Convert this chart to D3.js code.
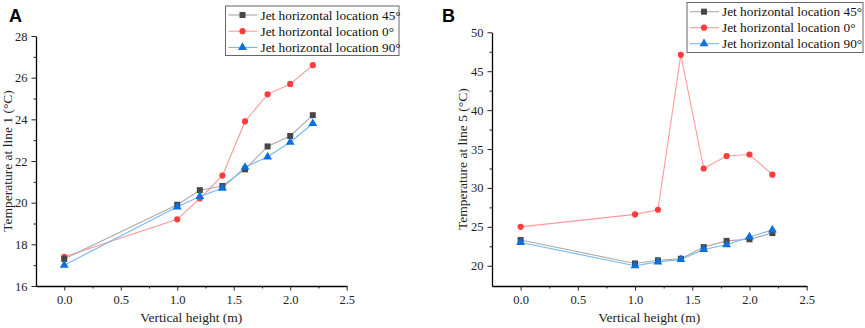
<!DOCTYPE html>
<html>
<head>
<meta charset="utf-8">
<script src="https://cdn.jsdelivr.net/npm/d3@7"></script>
<style>
  html, body { margin: 0; padding: 0; background: #fff; }
  svg { display: block; }
</style>
</head>
<body>
<svg id="fig" width="865" height="328"></svg>
<script>
// x positions (m)
const heights = [0.0, 1.0, 1.2, 1.4, 1.6, 1.8, 2.0, 2.2];
const seriesNames = ["Jet horizontal location 45°", "Jet horizontal location 0°", "Jet horizontal location 90°"];

// panel A: temperature at line 1
const line1_45 = [17.3, 19.9, 20.6, 20.8, 21.6, 22.7, 23.2, 24.2];
const line1_0  = [17.4, 19.2, 20.2, 21.3, 23.9, 25.2, 25.7, 26.6];
const line1_90 = [17.0, 19.8, 20.3, 20.7, 21.7, 22.2, 22.9, 23.8];

// panel B: temperature at line 5
const line5_45 = [23.3, 20.3, 20.7, 20.9, 22.4, 23.2, 23.4, 24.2];
const line5_0  = [25.0, 26.6, 27.2, 47.1, 32.5, 34.1, 34.3, 31.7];
const line5_90 = [23.0, 20.0, 20.5, 20.8, 22.1, 22.7, 23.7, 24.6];

const xTicks = [0, 0.5, 1.0, 1.5, 2.0, 2.5];
const xMinor = [0.25, 0.75, 1.25, 1.75, 2.25];
const yTicksA = [16, 18, 20, 22, 24, 26, 28];
const yMinorA = [17, 19, 21, 23, 25, 27];
const yTicksB = [20, 25, 30, 35, 40, 45, 50];
const yMinorB = [22.5, 27.5, 32.5, 37.5, 42.5, 47.5];

const styles = [
  { line: "#a9a9a9", mark: "#474747", sym: d3.symbolSquare, size: 36 },
  { line: "#ff9a9a", mark: "#ff3b3b", sym: d3.symbolCircle, size: 30 },
  { line: "#78b6ee", mark: "#0a6fe0", sym: d3.symbolTriangle, size: 34 }
];

const svg = d3.select("#fig");
const serif = "'Liberation Serif', 'Times New Roman', serif";

function panel(o) {
  const x = d3.scaleLinear().domain([-0.25, 2.5]).range(o.xr);
  const y = d3.scaleLinear().domain(o.yd).range(o.yr);
  const g = svg.append("g");

  // axes: major + minor ticks outward
  g.append("g").attr("transform", `translate(0,${o.yr[0]})`)
    .call(d3.axisBottom(x).tickValues(xMinor).tickSize(2.5).tickFormat(""))
    .call(a => a.select(".domain").remove());
  g.append("g").attr("transform", `translate(0,${o.yr[0]})`)
    .call(d3.axisBottom(x).tickValues(xTicks).tickSize(4.5).tickSizeOuter(0).tickPadding(5).tickFormat(d3.format(".1f")))
    .call(a => a.select(".domain").attr("stroke-width", 1.3));
  g.append("g").attr("transform", `translate(${o.xr[0]},0)`)
    .call(d3.axisLeft(y).tickValues(o.yMinor).tickSize(2.5).tickFormat(""))
    .call(a => a.select(".domain").remove());
  g.append("g").attr("transform", `translate(${o.xr[0]},0)`)
    .call(d3.axisLeft(y).tickValues(o.yTicks).tickSize(4.5).tickSizeOuter(0).tickPadding(4).tickFormat(d3.format("d")))
    .call(a => a.select(".domain").attr("stroke-width", 1.3));
  g.selectAll(".tick line").attr("stroke", "#222");
  g.selectAll(".tick text").style("font-family", serif).style("font-size", "12.5px").attr("fill", "#222");

  // titles
  g.append("text").attr("x", (o.xr[0] + o.xr[1]) / 2).attr("y", 322)
    .attr("text-anchor", "middle").style("font-family", serif).style("font-size", "13.5px").attr("fill", "#222")
    .text("Vertical height (m)");
  g.append("text").attr("transform", `translate(${o.yTitleX},${(o.yr[0] + o.yr[1]) / 2}) rotate(-90)`)
    .attr("text-anchor", "middle").style("font-family", serif).style("font-size", "13.5px").attr("fill", "#222")
    .text(o.yTitle);
  g.append("text").attr("x", o.tag[0]).attr("y", o.tag[1])
    .style("font-family", "'Liberation Sans', Arial, sans-serif").style("font-size", "18px").style("font-weight", "bold")
    .text(o.tagText);

  // series
  const line = d3.line().x((d, i) => x(heights[i])).y(d => y(d));
  [1, 0, 2].forEach(k => {
    g.append("path").datum(o.series[k]).attr("d", line)
      .attr("fill", "none").attr("stroke", styles[k].line).attr("stroke-width", 1.1);
  });
  [1, 0, 2].forEach(k => {
    g.selectAll(null).data(o.series[k]).join("path")
      .attr("transform", (d, i) => `translate(${x(heights[i])},${y(d)})`)
      .attr("d", d3.symbol(styles[k].sym, styles[k].size))
      .attr("fill", styles[k].mark);
  });

  // legend
  const L = o.legend;
  g.append("rect").attr("x", L.x).attr("y", L.y).attr("width", L.w).attr("height", L.h)
    .attr("fill", "#fff").attr("stroke", "#666").attr("stroke-width", 1);
  seriesNames.forEach((name, k) => {
    const cy = L.y + L.row0 + k * L.step;
    g.append("line").attr("x1", L.x + 3).attr("x2", L.x + 32).attr("y1", cy).attr("y2", cy)
      .attr("stroke", styles[k].line).attr("stroke-width", 1.1);
    g.append("path").attr("transform", `translate(${L.x + 17},${cy})`)
      .attr("d", d3.symbol(styles[k].sym, styles[k].size)).attr("fill", styles[k].mark);
    g.append("text").attr("x", L.x + 35).attr("y", cy + 4.5)
      .style("font-family", serif).style("font-size", "13.3px").attr("fill", "#111").text(name);
  });
}

panel({
  xr: [36, 346.7], yd: [16, 28], yr: [286, 36],
  yTicks: yTicksA, yMinor: yMinorA,
  yTitle: "Temperature at line 1 (°C)", yTitleX: 11.5,
  tag: [9, 22], tagText: "A",
  series: [line1_45, line1_0, line1_90],
  legend: { x: 225.5, y: 6, w: 173.5, h: 49.5, row0: 9, step: 16.2 }
});

panel({
  xr: [492, 806.7], yd: [17.4, 50], yr: [286, 32.3],
  yTicks: yTicksB, yMinor: yMinorB,
  yTitle: "Temperature at line 5 (°C)", yTitleX: 466.5,
  tag: [442, 21.7], tagText: "B",
  series: [line5_45, line5_0, line5_90],
  legend: { x: 687, y: 2.5, w: 176, h: 50, row0: 9.2, step: 16 }
});
</script>
</body>
</html>
